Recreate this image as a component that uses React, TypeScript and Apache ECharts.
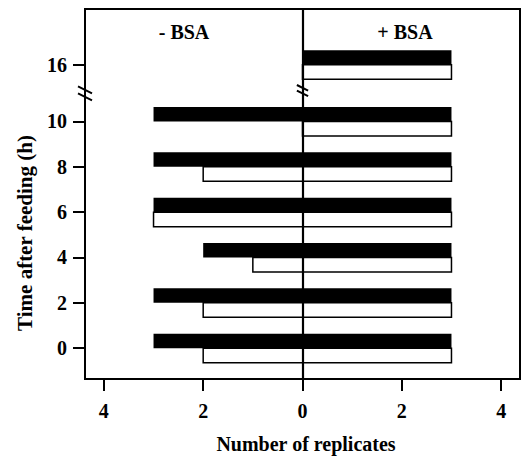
import React, { useEffect, useRef } from "react";
import * as echarts from "echarts";

// Time after feeding (h) and their positions on the broken y axis
const hours = ["0", "2", "4", "6", "8", "10", "16"];
const hourPositions = [0, 1, 2, 3, 4, 5, 6.25];
// Number of replicates: black bars and white bars, -BSA (left) and +BSA (right)
const blackMinusBSA = [3, 3, 2, 3, 3, 3, 0];
const blackPlusBSA = [3, 3, 3, 3, 3, 3, 3];
const whiteMinusBSA = [2, 2, 1, 3, 2, 0, 0];
const whitePlusBSA = [3, 3, 3, 3, 3, 3, 3];
const xTicks = [-4, -2, 0, 2, 4];

const FONT = "'Liberation Serif', 'Times New Roman', serif";

export default function App() {
  const ref = useRef<HTMLDivElement>(null);
  useEffect(() => {
    document.body.style.margin = "0";
    if (!ref.current) return;
    const chart = echarts.init(ref.current, undefined, { renderer: "svg" });
    const BAR_H = 14.5;

    const blackData = hourPositions.map((p, i) => [p, -blackMinusBSA[i], blackPlusBSA[i]]);
    const whiteData = hourPositions.map((p, i) => [p, -whiteMinusBSA[i], whitePlusBSA[i]]);

    const makeRender = (above: boolean, white: boolean) => (params: any, api: any) => {
      const y = api.value(0);
      const a = api.coord([api.value(1), y]);
      const b = api.coord([api.value(2), y]);
      const w = b[0] - a[0];
      if (w <= 0) return null;
      return {
        type: "rect",
        shape: { x: a[0], y: above ? a[1] - BAR_H : a[1], width: w, height: BAR_H },
        style: white
          ? { fill: "#fff", stroke: "#000", lineWidth: 1.5 }
          : { fill: "#000" },
      };
    };

    chart.setOption({
      animation: false,
      grid: {
        left: 85,
        right: 2,
        top: 9,
        bottom: 78,
        show: true,
        borderColor: "#000",
        borderWidth: 2,
        backgroundColor: "transparent",
      },
      xAxis: {
        type: "value",
        min: -4.38,
        max: 4.38,
        axisLine: { show: true, onZero: false, lineStyle: { color: "#000", width: 2 } },
        axisTick: {
          show: true,
          length: 12,
          lineStyle: { color: "#000", width: 2 },
          customValues: xTicks,
        },
        axisLabel: {
          customValues: xTicks,
          formatter: (v: number) => String(Math.abs(v)),
          color: "#000",
          fontFamily: FONT,
          fontWeight: "bold",
          fontSize: 20,
          margin: 22,
        },
        splitLine: { show: false },
      },
      yAxis: {
        type: "value",
        min: -0.68,
        max: 7.48,
        axisLine: { show: true, onZero: false, lineStyle: { color: "#000", width: 2 } },
        axisTick: {
          show: true,
          length: 12,
          lineStyle: { color: "#000", width: 2 },
          customValues: hourPositions,
        },
        axisLabel: {
          customValues: hourPositions,
          formatter: (v: number) => {
            const i = hourPositions.indexOf(v);
            return i >= 0 ? hours[i] : "";
          },
          color: "#000",
          fontFamily: FONT,
          fontWeight: "bold",
          fontSize: 20,
          margin: 18,
        },
        splitLine: { show: false },
      },
      series: [
        {
          type: "custom",
          name: "black",
          renderItem: makeRender(true, false),
          encode: { x: [1, 2], y: 0 },
          data: blackData,
          z: 2,
        },
        {
          type: "custom",
          name: "white",
          renderItem: makeRender(false, true),
          encode: { x: [1, 2], y: 0 },
          data: whiteData,
          z: 2,
          markLine: {
            silent: true,
            symbol: "none",
            label: { show: false },
            lineStyle: { color: "#000", width: 2.2, type: "solid" },
            data: [{ xAxis: 0 }],
            z: 5,
          },
        },
      ],
    });

    const breakMark = (cx: number, cy: number, s: number) => ({
      type: "group",
      z: 100,
      children: [
        {
          type: "polygon",
          shape: { points: [[cx - 4, cy - 5 * s], [cx + 4, cy - 1 * s], [cx + 4, cy + 5 * s], [cx - 4, cy + 1 * s]] },
          style: { fill: "#fff" },
        },
        {
          type: "line",
          shape: { x1: cx - 7 * s, y1: cy - 7 * s, x2: cx + 7 * s, y2: cy },
          style: { stroke: "#000", lineWidth: 2 },
        },
        {
          type: "line",
          shape: { x1: cx - 7 * s, y1: cy, x2: cx + 7 * s, y2: cy + 7 * s },
          style: { stroke: "#000", lineWidth: 2 },
        },
      ],
    });

    const pLeft = chart.convertToPixel({ gridIndex: 0 }, [-4.38, 5.62]) as number[];
    const pMid = chart.convertToPixel({ gridIndex: 0 }, [0, 5.68]) as number[];

    chart.setOption({
      graphic: [
        breakMark(pLeft[0], pLeft[1], 1),
        breakMark(pMid[0], pMid[1], 0.8),
        {
          type: "text",
          x: 184,
          y: 32,
          z: 100,
          style: {
            text: "- BSA",
            fill: "#000",
            font: `bold 20px ${FONT}`,
            textAlign: "center",
            textVerticalAlign: "middle",
          },
        },
        {
          type: "text",
          x: 405,
          y: 32,
          z: 100,
          style: {
            text: "+ BSA",
            fill: "#000",
            font: `bold 20px ${FONT}`,
            textAlign: "center",
            textVerticalAlign: "middle",
          },
        },
        {
          type: "text",
          x: 306,
          y: 444,
          z: 100,
          style: {
            text: "Number of replicates",
            fill: "#000",
            font: `bold 20px ${FONT}`,
            textAlign: "center",
            textVerticalAlign: "middle",
          },
        },
        {
          type: "text",
          x: 25,
          y: 233,
          rotation: Math.PI / 2,
          z: 100,
          style: {
            text: "Time after feeding (h)",
            fill: "#000",
            font: `bold 21px ${FONT}`,
            textAlign: "center",
            textVerticalAlign: "middle",
          },
        },
      ],
    });

    return () => chart.dispose();
  }, []);
  return <div ref={ref} style={{ width: 522, height: 457 }} />;
}
